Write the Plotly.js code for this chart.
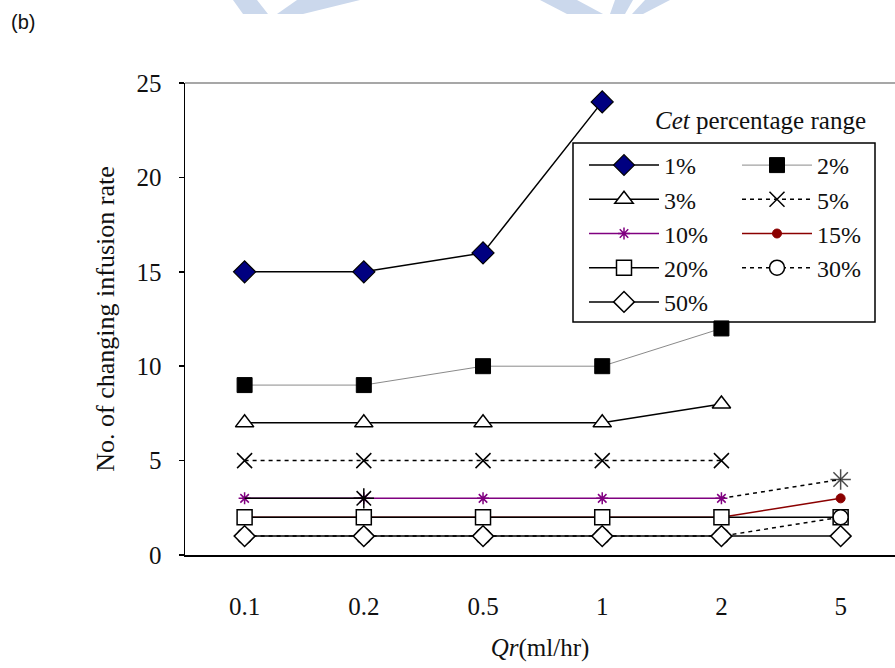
<!DOCTYPE html>
<html>
<head>
<meta charset="utf-8">
<script src="https://cdn.plot.ly/plotly-3.0.1.min.js"></script>
<style>html,body{margin:0;padding:0;background:#fff;}#chart{width:895px;height:668px;}</style>
</head>
<body>
<div id="chart"></div>
<script>
// ---- data ----
const qr = ['0.1', '0.2', '0.5', '1', '2', '5'];
const p1 = [15, 15, 16, 24];
const p2 = [9, 9, 10, 10, 12];
const p3 = [7, 7, 7, 7, 8];
const p5 = [5, 5, 5, 5, 5];
const p10 = [3, 3, 3, 3, 3, 4];
const p15 = [2, 2, 2, 2, 2, 3];
const p20 = [2, 2, 2, 2, 2, 2];
const p30 = [1, 1, 1, 1, 1, 2];
const p50 = [1, 1, 1, 1, 1, 1];
const seriesNames = ['1%', '2%', '3%', '5%', '10%', '15%', '20%', '30%', '50%'];
const yTicks = [0, 5, 10, 15, 20, 25];

// ---- layout helpers (pixel -> paper) ----
const L = 185, R = 895, T = 83, B = 555;
const px = x => (x - L) / (R - L);
const py = y => (B - y) / (B - T);

const FONT = 'Liberation Serif, Times New Roman, serif';
const DASH = '4px,4px';

function xs(arr, a, b) { return qr.slice(a || 0, b === undefined ? arr.length : b); }

const traces = [
  {name: seriesNames[0], x: xs(p1), y: p1, mode: 'lines+markers', legend: 'legend', legendrank: 1,
   line: {color: '#000', width: 1.5},
   marker: {symbol: 'diamond', size: 17, color: '#000080', line: {color: '#000', width: 1.2}}},
  {name: seriesNames[1], x: xs(p2), y: p2, mode: 'lines+markers', legend: 'legend2', legendrank: 1,
   line: {color: '#8a8a8a', width: 1},
   marker: {symbol: 'square', size: 15, color: '#000', line: {color: '#000', width: 1}}},
  {name: seriesNames[2], x: xs(p3), y: p3, mode: 'lines+markers', legend: 'legend', legendrank: 2,
   line: {color: '#000', width: 1.5},
   marker: {symbol: 'triangle-up', size: 16, color: '#fff', line: {color: '#000', width: 1.5}}},
  {name: seriesNames[3], x: xs(p5), y: p5, mode: 'lines+markers', legend: 'legend2', legendrank: 2,
   line: {color: '#000', width: 1.5, dash: DASH},
   marker: {symbol: 'x-thin-open', size: 15, color: '#000', line: {color: '#000', width: 1.5}}},
  // 10%: dashed black continuation to the last point
  {name: seriesNames[4], x: xs(p10, 4, 6), y: p10.slice(4, 6), mode: 'lines+markers', showlegend: false,
   line: {color: '#000', width: 1.5, dash: DASH},
   marker: {symbol: 'asterisk-open', size: [0, 17], color: '#000', line: {color: '#000', width: 1.5}}},
  {name: seriesNames[4], x: xs(p10, 0, 5), y: p10.slice(0, 5), mode: 'lines+markers', legend: 'legend', legendrank: 3,
   line: {color: '#800080', width: 1.5},
   marker: {symbol: 'asterisk-open', size: 10, color: '#800080', line: {color: '#800080', width: 1.5}}},
  {name: seriesNames[4], x: xs(p10, 0, 2), y: p10.slice(0, 2), mode: 'lines', showlegend: false,
   line: {color: '#000', width: 1.5}},
  {name: seriesNames[4], x: xs(p10, 1, 2), y: p10.slice(1, 2), mode: 'markers', showlegend: false,
   marker: {symbol: 'asterisk-open', size: 17, color: '#000', line: {color: '#000', width: 1.5}}},
  {name: seriesNames[5], x: xs(p15), y: p15, mode: 'lines+markers', legend: 'legend2', legendrank: 3,
   line: {color: '#8b0000', width: 1.5},
   marker: {symbol: 'circle', size: 9, color: '#8b0000', line: {color: '#8b0000', width: 1}}},
  {name: seriesNames[6], x: xs(p20), y: p20, mode: 'lines+markers', legend: 'legend', legendrank: 4,
   line: {color: '#000', width: 1.5},
   marker: {symbol: 'square', size: 15, color: '#fff', line: {color: '#000', width: 1.5}}},
  {name: seriesNames[7], x: xs(p30), y: p30, mode: 'lines+markers', legend: 'legend2', legendrank: 4,
   line: {color: '#000', width: 1.5, dash: DASH},
   marker: {symbol: 'circle', size: 15, color: '#fff', line: {color: '#000', width: 1.5}}},
  {name: seriesNames[8], x: xs(p50), y: p50, mode: 'lines+markers', legend: 'legend', legendrank: 5,
   line: {color: '#000', width: 1.5},
   marker: {symbol: 'diamond', size: 16, color: '#fff', line: {color: '#000', width: 1.5}}}
];

// watermark fragments (decoration, pixel polygons)
const wm = [
  [[233,0],[257,0],[268,14],[243,14]],
  [[297,0],[360,0],[303,14],[277,14]],
  [[540,0],[577,0],[603,14],[567,14]],
  [[615,0],[633,0],[625,14],[610,14]],
  [[645,0],[670,0],[643,14],[632,14]]
];
const shapes = wm.map(poly => ({
  type: 'path', xref: 'paper', yref: 'paper', layer: 'above',
  path: 'M' + poly.map(p => px(p[0]) + ',' + py(p[1])).join('L') + 'Z',
  fillcolor: '#cbd8ec', line: {width: 0}
}));
shapes.push({type: 'line', xref: 'paper', yref: 'paper', x0: 0, x1: 1, y0: 1, y1: 1,
  line: {color: '#8a8a8a', width: 1.5}});
shapes.push({type: 'rect', xref: 'paper', yref: 'paper', x0: px(573), x1: px(875), y0: py(322), y1: py(143),
  line: {color: '#000', width: 1.5}, fillcolor: 'rgba(255,255,255,0)'});

const legendBase = {
  xanchor: 'left', yanchor: 'top', bgcolor: 'rgba(0,0,0,0)', borderwidth: 0,
  font: {family: FONT, size: 24, color: '#111'}, itemwidth: 70, tracegroupgap: 0,
  itemclick: false, itemdoubleclick: false
};

const layout = {
  width: 895, height: 668,
  margin: {l: L, r: 895 - R, t: T, b: 668 - B},
  paper_bgcolor: '#fff', plot_bgcolor: '#fff',
  font: {family: FONT, size: 24, color: '#111'},
  xaxis: {
    type: 'category', categoryorder: 'array', categoryarray: qr,
    range: [-0.5, 5.456], showgrid: false, zeroline: false,
    showline: true, linecolor: '#000', linewidth: 1.5, ticks: '',
    ticklabelstandoff: 28, tickfont: {family: FONT, size: 25, color: '#111'},
    title: {text: '<i>Qr</i>(ml/hr)', font: {family: FONT, size: 25, color: '#111'}, standoff: 20}
  },
  yaxis: {
    range: [0, 25], tickvals: yTicks, ticktext: yTicks.map(String),
    showgrid: false, zeroline: false, showline: true, linecolor: '#000', linewidth: 1.5,
    ticks: 'outside', ticklen: 5, tickcolor: '#000', tickwidth: 1.5,
    ticklabelstandoff: 12, tickfont: {family: FONT, size: 25, color: '#111'},
    title: {text: 'No. of changing infusion rate', font: {family: FONT, size: 26, color: '#111'}, standoff: 14}
  },
  legend: Object.assign({x: px(584), y: py(143)}, legendBase),
  legend2: Object.assign({x: px(737), y: py(143)}, legendBase),
  shapes: shapes,
  annotations: [
    {text: '<i>Cet</i> percentage range', xref: 'paper', yref: 'paper', x: px(868), y: py(120),
     xanchor: 'right', yanchor: 'middle', showarrow: false, font: {family: FONT, size: 25, color: '#111'}},
    {text: '(b)', xref: 'paper', yref: 'paper', x: px(9), y: py(22), xanchor: 'left', yanchor: 'middle',
     showarrow: false, font: {family: 'Liberation Sans, Arial, sans-serif', size: 20, color: '#111'}}
  ],
  showlegend: true
};

Plotly.newPlot('chart', traces, layout, {displayModeBar: false, staticPlot: true});
</script>
</body>
</html>
